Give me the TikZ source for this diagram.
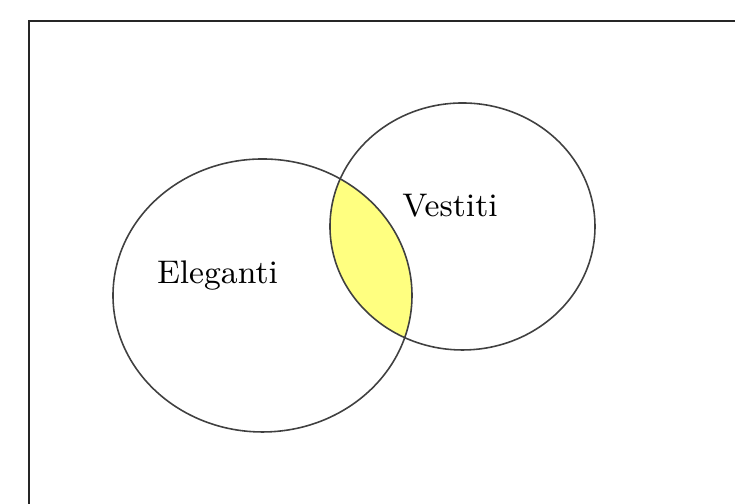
\documentclass[tikz,border=0pt]{standalone}
\usepackage{xcolor}
\usetikzlibrary{positioning}
\definecolor{lensyellow}{RGB}{255,255,128}
\begin{document}
\begin{tikzpicture}[x=0.01cm,y=0.01cm,every node/.style={font=\fontsize{9.3}{11}\selectfont},
  setline/.style={black!75,line width=0.45pt}]
  \useasboundingbox (0,0) rectangle (735,504);
  % frame: right and bottom edges run off the page
  \draw[line width=0.75pt,black!85] (29,-20) |- (760,483);
  % overlap of the two sets
  \begin{scope}
    \clip (262.5,208.5) ellipse [x radius=149.5,y radius=136.5];
    \fill[lensyellow] (462.5,277.5) ellipse [x radius=132.5,y radius=123.5];
  \end{scope}
  \draw[setline] (262.5,208.5) ellipse [x radius=149.5,y radius=136.5];
  \draw[setline] (462.5,277.5) ellipse [x radius=132.5,y radius=123.5];
  % labels
  \node[anchor=base] (eleganti) at (217.5,220) {Eleganti};
  \node[anchor=base] (vestiti) at (450,287) {Vestiti};
\end{tikzpicture}
\end{document}
